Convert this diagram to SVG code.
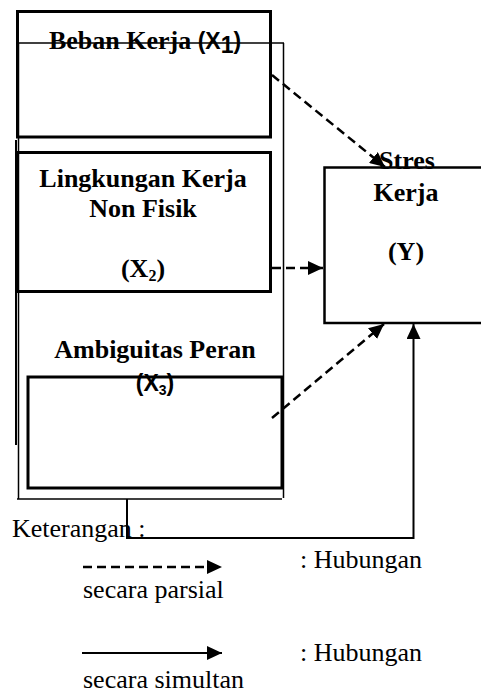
<svg xmlns="http://www.w3.org/2000/svg" width="481" height="693" viewBox="0 0 481 693">
<style>
.bg{fill:#ffffff}
.box{fill:none;stroke:#000;stroke-width:3}
.ybox{fill:none;stroke:#000;stroke-width:2.5}
.thin{fill:none;stroke:#000;stroke-width:1.5}
.dash{fill:none;stroke:#000;stroke-width:2.5;stroke-dasharray:9 5}
.solid{fill:none;stroke:#000;stroke-width:2}
.lbl{font-family:"Liberation Serif","Times New Roman",serif;font-weight:bold;font-size:26px;fill:#000}
.sans{font-family:"Liberation Sans",Arial,sans-serif;font-weight:bold;font-size:23px;fill:#000}
.txt{font-family:"Liberation Serif","Times New Roman",serif;font-size:26px;fill:#000}
</style>
<defs>
<marker id="ah" markerUnits="userSpaceOnUse" markerWidth="15" markerHeight="14" refX="15" refY="7" orient="auto">
<path d="M0,0 L15,7 L0,14 Z" fill="#000"/>
</marker>
</defs>
<rect class="bg" x="0" y="0" width="481" height="693"/>

<g id="frame">
<line class="thin" x1="18" y1="43" x2="284" y2="43"/>
<line class="thin" x1="283.5" y1="43" x2="283.5" y2="498"/>
<line class="thin" x1="18.5" y1="43" x2="18.5" y2="499"/>
<line class="thin" x1="17" y1="499" x2="282" y2="499"/>
<line class="solid" x1="16" y1="140" x2="16" y2="445"/>
</g>

<g id="node-x1">
<rect class="box" x="17.5" y="11.5" width="253" height="125.5"/>
<text x="145" y="49" text-anchor="middle"><tspan class="lbl">Beban Kerja </tspan><tspan class="sans">(X</tspan><tspan class="sans" font-size="14" dy="4">1</tspan><tspan class="sans" dy="-4">)</tspan></text>
</g>

<g id="node-x2">
<rect class="box" x="17.5" y="152.5" width="253" height="139"/>
<text class="lbl" x="143" y="187" text-anchor="middle">Lingkungan Kerja</text>
<text class="lbl" x="143" y="217" text-anchor="middle">Non Fisik</text>
<text class="lbl" x="143" y="277" text-anchor="middle">(X<tspan font-size="16" dy="4">2</tspan><tspan dy="-4">)</tspan></text>
</g>

<g id="node-x3">
<text class="lbl" x="155" y="358" text-anchor="middle">Ambiguitas Peran</text>
<rect class="box" x="28" y="377" width="254" height="111"/>
<text class="sans" x="155" y="391" text-anchor="middle">(X<tspan font-size="14" dy="4">3</tspan><tspan dy="-4">)</tspan></text>
</g>

<g id="node-y">
<rect class="ybox" x="324.5" y="167.5" width="200" height="155.5"/>
<text class="lbl" x="407" y="169" text-anchor="middle">Stres</text>
<text class="lbl" x="406" y="201" text-anchor="middle">Kerja</text>
<text class="lbl" x="406" y="260" text-anchor="middle">(Y)</text>
</g>

<g id="connectors">
<line class="dash" x1="272" y1="75" x2="385" y2="167" marker-end="url(#ah)"/>
<line class="dash" x1="272" y1="268" x2="323" y2="268" marker-end="url(#ah)"/>
<line class="dash" x1="272" y1="418" x2="384" y2="324" marker-end="url(#ah)"/>
<polyline class="solid" points="127,499 127,538 413.5,538 413.5,324" marker-end="url(#ah)"/>
</g>

<g id="legend">
<text class="txt" x="12" y="537">Keterangan :</text>
<line class="dash" x1="83" y1="567" x2="222" y2="567" marker-end="url(#ah)"/>
<text class="txt" x="300" y="568">: Hubungan</text>
<text class="txt" x="83" y="598">secara parsial</text>
<line class="solid" x1="82" y1="653" x2="222" y2="653" stroke-width="2.5" marker-end="url(#ah)"/>
<text class="txt" x="300" y="661">: Hubungan</text>
<text class="txt" x="83" y="688">secara simultan</text>
</g>
</svg>
